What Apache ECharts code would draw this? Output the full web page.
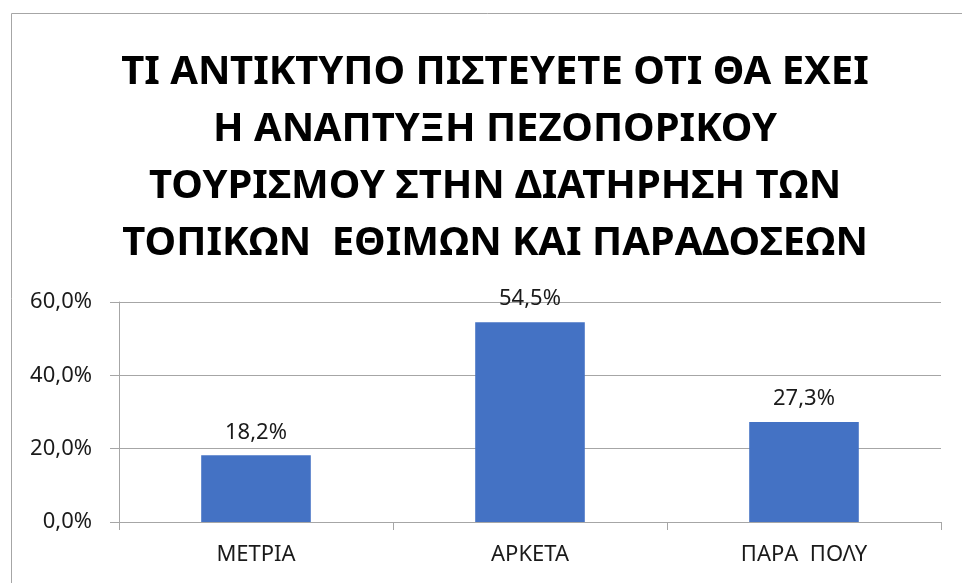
<!DOCTYPE html>
<html>
<head>
<meta charset="utf-8">
<script src="https://cdn.jsdelivr.net/npm/echarts@6/dist/echarts.min.js"></script>
<style>
html, body { margin: 0; padding: 0; background: #fff; }
#main { width: 962px; height: 583px; }
</style>
</head>
<body>
<div id="main"></div>
<script>
// κατηγορίες και τιμές (%)
var categories = ['ΜΕΤΡΙΑ', 'ΑΡΚΕΤΑ', 'ΠΑΡΑ  ΠΟΛΥ'];
var values = [18.2, 54.5, 27.3];
var titleText = 'ΤΙ ΑΝΤΙΚΤΥΠΟ ΠΙΣΤΕΥΕΤΕ ΟΤΙ ΘΑ ΕΧΕΙ\nΗ ΑΝΑΠΤΥΞΗ ΠΕΖΟΠΟΡΙΚΟΥ\nΤΟΥΡΙΣΜΟΥ ΣΤΗΝ ΔΙΑΤΗΡΗΣΗ ΤΩΝ\nΤΟΠΙΚΩΝ  ΕΘΙΜΩΝ ΚΑΙ ΠΑΡΑΔΟΣΕΩΝ';

function pct(v) {
	return v.toFixed(1).replace('.', ',') + '%';
}

var option = {
	animation: false,
	textStyle: { fontFamily: 'Noto Sans' },
	title: {
		text: titleText,
		left: 490,
		textAlign: 'center',
		top: 39,
		textStyle: {
			fontFamily: 'Noto Sans',
			fontWeight: 'bold',
			fontSize: 40,
			lineHeight: 57,
			color: '#000'
		}
	},
	graphic: [{
		type: 'rect',
		shape: { x: 11.5, y: 13.5, width: 1200, height: 1200 },
		style: { fill: 'none', stroke: '#a6a6a6', lineWidth: 1 },
		silent: true
	}],
	grid: {
		left: 119,
		right: 21,
		top: 302,
		bottom: 61
	},
	xAxis: {
		type: 'category',
		data: categories,
		axisLine: { lineStyle: { color: '#a6a6a6', width: 1 } },
		axisTick: { show: true, length: 8, lineStyle: { color: '#a6a6a6' } },
		axisLabel: { color: '#1a1a1a', fontSize: 22, margin: 22 }
	},
	yAxis: {
		type: 'value',
		min: 0,
		max: 60,
		interval: 20,
		axisLine: { show: true, lineStyle: { color: '#a6a6a6', width: 1 } },
		axisTick: { show: true, length: 9, lineStyle: { color: '#a6a6a6' } },
		splitLine: { lineStyle: { color: '#a6a6a6', width: 1 } },
		axisLabel: {
			color: '#1a1a1a',
			fontSize: 22,
			margin: 27,
			formatter: function(v) { return pct(v); }
		}
	},
	series: [{
		type: 'bar',
		data: values,
		barWidth: '40%',
		itemStyle: { color: '#4472c4' },
		label: {
			show: true,
			position: 'top',
			distance: 12,
			color: '#1a1a1a',
			fontSize: 22,
			formatter: function(p) { return pct(p.value); }
		}
	}]
};

var chart = echarts.init(document.getElementById('main'));
chart.setOption(option);
</script>
</body>
</html>
